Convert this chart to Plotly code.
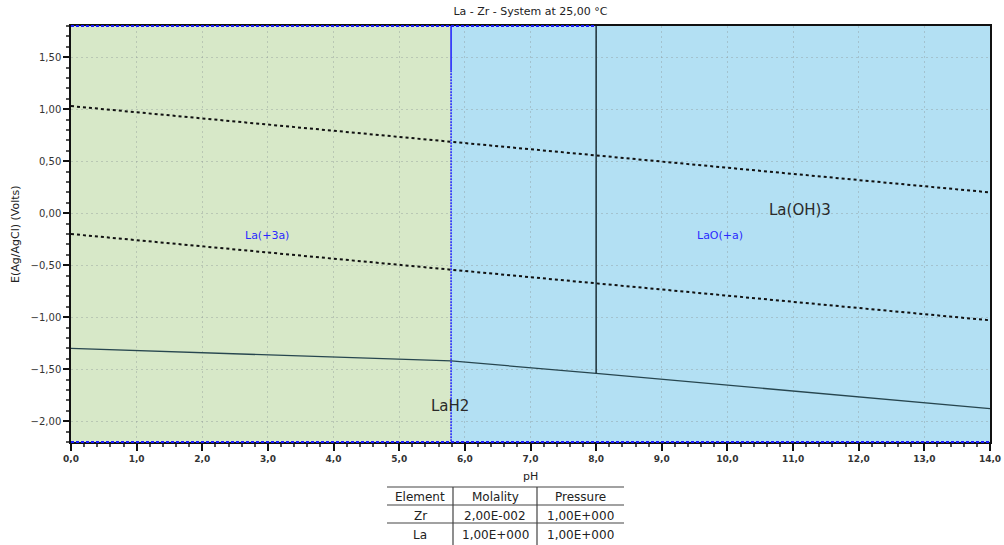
import plotly.graph_objects as go

# ---- data ----
ph_range = [0.0, 14.0]
e_range = [-2.2, 1.8]
ph_boundary_la3 = 5.79          # La(+3a) / LaO(+a) boundary
ph_boundary_laoh = 8.0          # LaO(+a) / La(OH)3 boundary

water_ph = [0.0, 14.0]
water_upper_e = [1.03, 0.20]
water_lower_e = [-0.20, -1.03]

lah2_ph = [0.0, 5.79, 8.0, 14.0]
lah2_e = [-1.30, -1.42, -1.54, -1.88]

vline8_e = [-1.54, 1.8]
vline579_solid_e = [1.8, 1.375]
vline579_dot_e = [1.375, -2.2]

labels = ["La(+3a)", "LaO(+a)", "La(OH)3", "LaH2"]
labels_ph = [2.99, 9.89, 11.1, 5.77]
labels_e = [-0.21, -0.21, 0.03, -1.855]

table_header = ["Element", "Molality", "Pressure"]
table_rows = [["Zr", "2,00E-002", "1,00E+000"],
              ["La", "1,00E+000", "1,00E+000"]]

title = "La - Zr - System at 25,00 \u00b0C"

W, H = 1004, 545
L, R, T, B = 71, 14, 26, 103

fig = go.Figure()

GREEN = "#d7e8c8"
BLUE = "#b3e0f3"

# region fills (below gridlines)
fig.add_shape(type="rect", xref="x", yref="y domain", x0=ph_range[0], x1=ph_boundary_la3,
              y0=0, y1=1, fillcolor=GREEN, line=dict(width=0), layer="below")
fig.add_shape(type="rect", xref="x", yref="y domain", x0=ph_boundary_la3, x1=ph_range[1],
              y0=0, y1=1, fillcolor=BLUE, line=dict(width=0), layer="below")

# water lines
fig.add_trace(go.Scatter(x=water_ph, y=water_upper_e, mode="lines",
                         line=dict(color="#111111", width=2, dash="3px,3px"), hoverinfo="skip"))
fig.add_trace(go.Scatter(x=water_ph, y=water_lower_e, mode="lines",
                         line=dict(color="#111111", width=2, dash="3px,3px"), hoverinfo="skip"))
# LaH2 boundary
fig.add_trace(go.Scatter(x=lah2_ph, y=lah2_e, mode="lines",
                         line=dict(color="#27464f", width=1.3), hoverinfo="skip"))
# vertical at pH 8
fig.add_trace(go.Scatter(x=[ph_boundary_laoh, ph_boundary_laoh], y=vline8_e, mode="lines",
                         line=dict(color="#1c2f36", width=1.5), hoverinfo="skip"))
# vertical blue at 5.79
fig.add_trace(go.Scatter(x=[ph_boundary_la3, ph_boundary_la3], y=vline579_solid_e, mode="lines",
                         line=dict(color="#1a1aff", width=1.5), hoverinfo="skip"))
fig.add_trace(go.Scatter(x=[ph_boundary_la3, ph_boundary_la3], y=vline579_dot_e, mode="lines",
                         line=dict(color="#1a1aff", width=1.5, dash="2px,1px"), hoverinfo="skip"))

# dotted blue borders on top (0..8) and bottom (0..14)
fig.add_shape(type="line", xref="x", yref="paper", x0=ph_range[0], x1=ph_boundary_laoh, y0=1, y1=1,
              line=dict(color="#1a1aff", width=2, dash="3px,2px"), layer="above")
fig.add_shape(type="line", xref="x", yref="paper", x0=ph_range[0], x1=ph_range[1], y0=0, y1=0,
              line=dict(color="#1a1aff", width=2, dash="3px,2px"), layer="above")

# labels
label_styles = [dict(color="#2a2aff", size=11), dict(color="#2a2aff", size=11),
                dict(color="#2a2a2a", size=15), dict(color="#2a2a2a", size=15)]
for t, x, y, st in zip(labels, labels_ph, labels_e, label_styles):
    fig.add_annotation(x=x, y=y, text=t, showarrow=False, xref="x", yref="y",
                       xanchor="center", yanchor="middle",
                       font=dict(family="DejaVu Sans", **st))

# axis titles
fig.add_annotation(xref="paper", yref="paper", x=0.5, y=0, yshift=-34, text="pH",
                   xanchor="center", yanchor="middle",
                   showarrow=False, font=dict(family="DejaVu Sans", size=11, color="#222"))
fig.add_annotation(xref="paper", yref="paper", x=0, y=0.5, xshift=-56, text="E(Ag/AgCl) (Volts)",
                   xanchor="center", yanchor="middle",
                   textangle=-90, showarrow=False, font=dict(family="DejaVu Sans", size=11, color="#222"))

# table (pixel layout converted to paper coords)
pw, ph_ = W - L - R, H - T - B
def px(x):
    return (x - L) / pw
def py(y):
    return 1 - (y - T) / ph_

tx0, tx1 = 387, 624
col_sep = [453, 537]
col_centers = [420, 495, 580]
row_lines = [487, 505, 523]
row_centers = [497, 516, 535]
for yl in row_lines:
    fig.add_shape(type="line", xref="paper", yref="paper", x0=px(tx0), x1=px(tx1), y0=py(yl), y1=py(yl),
                  line=dict(color="#444", width=1.2))
for xs in col_sep:
    fig.add_shape(type="line", xref="paper", yref="paper", x0=px(xs), x1=px(xs), y0=py(487), y1=py(545),
                  line=dict(color="#444", width=1.2))
all_rows = [table_header] + table_rows
for ri, row in enumerate(all_rows):
    for ci, cell in enumerate(row):
        fig.add_annotation(xref="paper", yref="paper", x=px(col_centers[ci]), y=py(row_centers[ri]),
                           text=cell, showarrow=False, xanchor="center", yanchor="middle",
                           font=dict(family="DejaVu Sans", size=12, color="#222"))

grid = dict(showgrid=True, gridcolor="rgba(140,150,150,0.40)", griddash="2px,3px", gridwidth=1)

fig.update_layout(
    width=W, height=H,
    margin=dict(l=L, r=R, t=T, b=B, pad=0, autoexpand=False),
    paper_bgcolor="white", plot_bgcolor="white",
    showlegend=False,
    separators=", ",
    title=dict(text=title, x=0.5, xref="paper", y=1 - 11 / H, yref="container", yanchor="middle",
               font=dict(family="DejaVu Sans", size=11, color="#222")),
    xaxis=dict(range=ph_range, tick0=0, dtick=1, tickformat=".1f", automargin=False,
               ticks="outside", ticklen=7, tickcolor="#111", tickwidth=1.5,
               showline=True, linecolor="#111", linewidth=1.5, mirror=True,
               minor=dict(dtick=0.2, ticks="outside", ticklen=3, tickcolor="#555", showgrid=False),
               tickfont=dict(family="DejaVu Sans", size=9, color="#333", weight="bold"),
               zeroline=False, **grid),
    yaxis=dict(range=e_range, tick0=0, dtick=0.5, tickformat=".2f", automargin=False,
               ticks="outside", ticklen=6, tickcolor="#111", tickwidth=1.5,
               showline=True, linecolor="#111", linewidth=1.5, mirror=True,
               minor=dict(dtick=0.1, ticks="outside", ticklen=3, tickcolor="#555", showgrid=False),
               tickfont=dict(family="DejaVu Sans", size=10, color="#333"),
               zeroline=False, **grid),
)

fig.write_html("out.html", config={"displayModeBar": False},
               post_script="document.body.style.margin='0';document.body.style.padding='0';")
